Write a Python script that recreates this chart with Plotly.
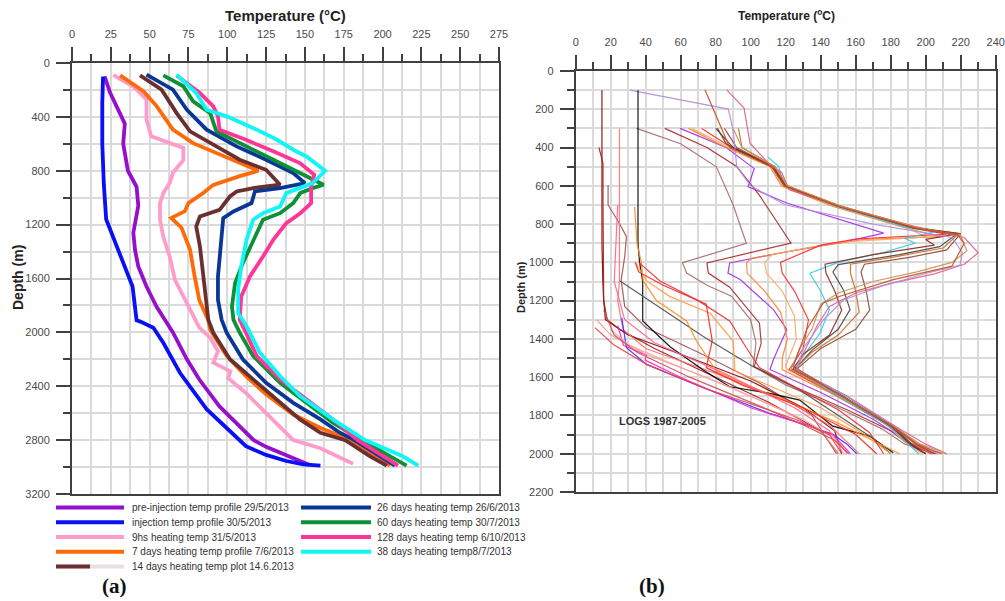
import plotly.graph_objects as go

W, H = 1005, 601

# ---------------- Panel (a) data: temperature (°C) vs depth (m) ----------------
pre_T = [21, 24.5, 34, 33, 36, 41.6, 42.7, 39.5, 40.6, 42.7, 48, 54.5, 60, 65, 74, 82, 95, 108, 117, 125, 138, 153]
pre_D = [100, 220, 450, 600, 800, 920, 1060, 1260, 1390, 1510, 1660, 1810, 1910, 2000, 2200, 2350, 2550, 2700, 2800, 2850, 2910, 2985]

inj_T = [20, 19.5, 19.5, 20.5, 22, 29, 36, 39, 41.6, 44, 52.4, 58.8, 69.5, 86.7, 99.6, 112, 125, 138, 149, 160]
inj_D = [100, 300, 600, 900, 1160, 1360, 1560, 1660, 1910, 1920, 1965, 2077, 2300, 2570, 2710, 2845, 2910, 2955, 2980, 2990]

h9_T = [26.6, 39.5, 48, 48, 51, 65, 71.7, 71.7, 65, 63, 58.8, 56.7, 56.7, 58.8, 63, 66.3, 71.7, 77, 82, 89, 94, 91, 102, 100.6, 112, 125, 142.5, 160, 172.5, 181]
h9_D = [90, 175, 270, 420, 545, 605, 630, 720, 815, 890, 965, 1040, 1165, 1290, 1440, 1610, 1735, 1860, 1965, 2040, 2140, 2225, 2290, 2340, 2450, 2600, 2800, 2860, 2930, 2975]

d7_T = [31, 46, 54.5, 65, 78, 93, 108, 120, 108, 91, 84.5, 75, 72.7, 64, 70.6, 76, 79, 82, 87.8, 89, 99.6, 112, 125, 142.5, 160, 180, 196, 204.8]
d7_D = [92, 210, 320, 495, 595, 670, 745, 800, 840, 905, 965, 1040, 1100, 1150, 1225, 1385, 1585, 1760, 1910, 1980, 2175, 2325, 2460, 2610, 2710, 2800, 2920, 2990]

d14_T = [43.8, 57.7, 67.4, 76, 93, 108, 125, 134, 116.7, 106, 101.7, 95, 82.4, 80, 82.4, 84.5, 86.7, 87.8, 91, 101.7, 116.7, 131.8, 146.8, 160, 176, 192, 202.7]
d14_D = [92, 198, 372, 508, 619, 718, 793, 904, 929, 954, 991, 1090, 1139, 1214, 1362, 1585, 1759, 1907, 2002, 2200, 2349, 2498, 2646, 2745, 2800, 2920, 2990]

d26_T = [48, 65, 74, 86.7, 106, 125, 142.5, 150, 134, 117.8, 115.6, 104, 97.4, 96.4, 94, 94, 96.4, 99.6, 110, 125, 142.5, 160, 172.5, 182, 198, 208]
d26_D = [87, 198, 347, 495, 619, 718, 817, 892, 929, 954, 1040, 1102, 1152, 1263, 1585, 1759, 1907, 2002, 2200, 2374, 2523, 2646, 2745, 2800, 2920, 2990]

d60_T = [58.8, 71.7, 78, 89, 93, 108, 125, 142.5, 153, 162, 155, 147, 142.5, 134, 123, 116.7, 110, 105, 103, 104, 108, 116.7, 134, 151, 168, 186.5, 204.8, 215.5]
d60_D = [92, 173, 285, 372, 508, 594, 694, 793, 855, 904, 929, 966, 1040, 1115, 1164, 1313, 1486, 1635, 1808, 1907, 2002, 2176, 2374, 2523, 2671, 2800, 2920, 2990]

d128_T = [67.4, 82.4, 91, 94, 95, 112, 129.6, 146.8, 156, 154, 154, 147, 138, 129.6, 123, 114.6, 109, 108, 112, 119, 134, 151, 168, 184, 200, 210]
d128_D = [92, 223, 322, 396, 495, 570, 656, 743, 830, 916, 1040, 1115, 1189, 1313, 1437, 1585, 1734, 1907, 2002, 2176, 2349, 2498, 2646, 2800, 2920, 2990]

d38_T = [67.4, 80, 86.7, 99.6, 119, 132, 142.5, 151, 163, 155, 138, 134, 123, 116.7, 112.4, 109, 107, 107, 112.4, 121, 134, 146.8, 168, 188.7, 213, 223]
d38_D = [87, 223, 347, 396, 495, 570, 644, 694, 800, 892, 966, 1065, 1115, 1164, 1313, 1511, 1684, 1858, 1953, 2151, 2324, 2473, 2646, 2800, 2920, 2990]

a_names = ["pre-injection temp profile 29/5/2013", "injection temp profile 30/5/2013",
           "9hs heating temp 31/5/2013", "7 days heating temp profile 7/6/2013",
           "14 days heating temp plot 14.6.2013", "26 days heating temp 26/6/2013",
           "60 days heating temp 30/7/2013", "128 days heating temp 6/10/2013",
           "38 days heating temp8/7/2013"]
a_colors = ["#9410CC", "#0A10F5", "#FF9CCB", "#FF6A08", "#6A3030",
            "#0A3696", "#0E9136", "#FF3597", "#10F5F5"]
a_T = [pre_T, inj_T, h9_T, d7_T, d14_T, d26_T, d60_T, d128_T, d38_T]
a_D = [pre_D, inj_D, h9_D, d7_D, d14_D, d26_D, d60_D, d128_D, d38_D]

# ---------------- Panel (b) data: logs 1987-2005 ----------------
# warm logs (peak near 850-950 m)
w1_T = [34.8, 60, 80.4, 90, 97.5, 61, 63.4, 75, 89, 100, 103, 101.5, 120, 150, 175, 188, 205]
w1_D = [300, 380, 501, 700, 901, 1002, 1056, 1120, 1177, 1300, 1420, 1543, 1640, 1760, 1870, 1950, 2000]
w2_T = [50.9, 75, 92, 105, 123, 75, 75.8, 88, 105, 106, 102, 125, 155, 180, 190, 200]
w2_D = [300, 400, 499, 650, 899, 1003, 1056, 1130, 1318, 1423, 1545, 1650, 1770, 1880, 1950, 2000]
w3_T = [59.6, 86, 102, 98.5, 120.6, 176, 155, 117, 88, 87, 94, 113, 120.6, 113, 111, 140, 170, 190, 206]
w3_D = [300, 400, 510, 605, 690, 847, 890, 951, 1003, 1056, 1090, 1247, 1351, 1508, 1560, 1680, 1820, 1940, 2000]
w4_T = [64.4, 86, 111, 117.7, 147, 189, 208, 165, 135, 100, 97.7, 98, 108, 117, 121, 118, 118, 145, 175, 190, 210]
w4_D = [300, 400, 500, 603, 708, 821, 865, 880, 920, 980, 1003, 1056, 1150, 1260, 1400, 1500, 1560, 1680, 1830, 1940, 2000]
w5_T = [66.3, 88, 112, 118, 148, 190, 200, 150, 112, 108, 109, 118, 125, 126, 120, 121, 148, 178, 188, 198]
w5_D = [300, 400, 500, 600, 705, 820, 868, 895, 960, 1003, 1056, 1150, 1280, 1400, 1540, 1560, 1690, 1850, 1940, 2000]
w6_T = [72, 89, 113, 119, 149, 192, 212, 160, 140, 117, 118, 125, 133, 130, 122, 150, 180, 192, 203]
w6_D = [300, 400, 500, 600, 705, 820, 852, 878, 910, 1000, 1056, 1150, 1300, 1450, 1560, 1700, 1860, 1950, 2000]
w7_T = [110, 116, 119, 148, 190, 206, 188, 194, 175, 150, 133.8, 139.6, 145, 139.6, 130, 124, 150, 178, 190, 196]
w7_D = [450, 500, 600, 705, 820, 839, 874, 900, 950, 1000, 1057, 1144, 1247, 1369, 1490, 1560, 1700, 1850, 1950, 2000]
w8_T = [80, 90, 113, 120, 150, 193, 216, 200, 205, 170, 142.5, 143, 148, 152, 145, 130, 124, 152, 181, 191, 200]
w8_D = [300, 400, 500, 600, 705, 820, 855, 880, 910, 960, 1010, 1056, 1150, 1250, 1380, 1480, 1560, 1700, 1860, 1950, 2000]
w9_T = [81, 86, 112, 120, 150, 194, 218, 208, 185, 150, 147, 153, 156.8, 150, 135, 125, 153, 183, 192, 200]
w9_D = [300, 380, 500, 600, 705, 820, 850, 918, 960, 1012, 1050, 1144, 1247, 1350, 1460, 1560, 1700, 1870, 1950, 2000]
w10_T = [93, 95, 114, 121, 151, 195, 219, 210, 180, 157, 157, 160, 162, 150, 135, 125, 152, 182, 194, 204]
w10_D = [300, 400, 500, 600, 705, 820, 850, 925, 975, 1010, 1056, 1150, 1260, 1380, 1470, 1560, 1700, 1860, 1950, 2000]
w11_T = [85, 92, 113, 120, 150, 195, 220, 212, 190, 165, 163, 166, 168, 160, 140, 126, 155, 184, 195, 205]
w11_D = [300, 400, 500, 600, 705, 820, 850, 935, 975, 1010, 1050, 1150, 1250, 1350, 1450, 1560, 1700, 1870, 1950, 2000]
n1_T = [86.3, 96.2, 99.6, 111, 117.7, 122, 150, 195, 222, 230, 222, 205, 180, 160, 145, 138, 132, 126, 155, 185, 200, 212]
n1_D = [99, 194, 377, 490, 530, 620, 705, 815, 870, 950, 1010, 1060, 1110, 1160, 1230, 1330, 1440, 1560, 1700, 1870, 1950, 2000]
n2_T = [31, 87.2, 90, 92, 100, 119.6, 170, 215, 221, 219.6, 200.5, 174, 153, 141.5, 130, 126.3, 155, 183, 196, 207]
n2_D = [100, 199, 310, 500, 600, 699, 800, 870, 950, 1014, 1057, 1127, 1197, 1301, 1450, 1560, 1700, 1860, 1950, 2000]
n3_T = [90, 95, 114, 121, 151, 196, 220, 223.5, 215, 195, 170, 150, 140, 135, 128, 123, 152, 182, 197, 212]
n3_D = [300, 400, 500, 600, 705, 820, 860, 940, 1000, 1050, 1100, 1160, 1220, 1350, 1450, 1560, 1700, 1860, 1950, 2000]
n4_T = [73.9, 80.6, 88, 112, 119, 149, 193, 218, 222, 215, 181.5, 151, 141.5, 132, 124.4, 150, 180, 195, 209]
n4_D = [99, 246, 400, 500, 600, 705, 820, 855, 900, 1020, 1090, 1177, 1212, 1351, 1543, 1690, 1850, 1950, 2000]
# cold logs (shallow cold section)
c1_T = [15, 15, 15, 15.5, 16, 17, 30, 60, 100, 130, 148, 152]
c1_D = [100, 500, 900, 1100, 1200, 1300, 1380, 1480, 1620, 1760, 1880, 2000]
c2_T = [13.3, 15.6, 15.6, 15.6, 16, 18, 25, 45, 75, 110, 140, 150]
c2_D = [400, 483, 700, 1000, 1200, 1300, 1350, 1450, 1580, 1730, 1880, 2000]
c3_T = [18.5, 18.5, 25, 29, 28, 26, 28, 40, 70, 105, 135, 149]
c3_D = [597, 700, 797, 866, 970, 1092, 1230, 1340, 1470, 1630, 1800, 2000]
c4_T = [25, 25, 25, 25, 24, 27, 40, 80, 120, 145, 162]
c4_D = [300, 600, 900, 1100, 1200, 1350, 1450, 1580, 1720, 1850, 2000]
c5_T = [35.6, 35.6, 35.6, 36.5, 38.3, 38.3, 53.9, 72.9, 88, 111, 128, 147, 168, 181.5]
c5_D = [100, 500, 900, 1000, 1100, 1306, 1441, 1563, 1650, 1685, 1720, 1856, 1908, 1995]
c6_T = [25.3, 38.6, 55, 72.9, 92, 101.5, 128, 150, 170, 180]
c6_D = [1097, 1179, 1280, 1388, 1493, 1545, 1667, 1800, 1920, 2000]
c7_T = [33.7, 35, 37.5, 38.6, 46.2, 63.4, 69, 80.4, 100, 125, 150, 172, 185]
c7_D = [710, 900, 1000, 1097, 1201, 1306, 1411, 1568, 1650, 1740, 1840, 1940, 2000]
c8_T = [34, 40.5, 53.9, 76.8, 90, 91, 112, 140, 165, 180]
c8_D = [1000, 1097, 1179, 1266, 1411, 1568, 1650, 1760, 1900, 2000]
c9_T = [34, 36, 50, 74.6, 78, 74.6, 95, 130, 160, 172]
c9_D = [1000, 1050, 1120, 1219, 1411, 1550, 1640, 1760, 1900, 2000]
c10_T = [36, 48.2, 70, 88, 97.5, 105, 125, 150, 168, 176]
c10_D = [1000, 1097, 1200, 1306, 1446, 1550, 1650, 1770, 1890, 2000]
c11_T = [26.3, 29, 40.5, 72.9, 110, 128, 147, 155, 160.6]
c11_D = [1289, 1446, 1533, 1655, 1786, 1838, 1899, 1950, 2000]
c12_T = [24, 27.3, 40.5, 39.6, 60, 100, 128, 147, 157]
c12_D = [1330, 1433, 1485, 1511, 1600, 1760, 1840, 1900, 2000]
c13_T = [24, 23, 22, 25, 28, 45, 85, 125, 145, 155]
c13_D = [700, 900, 1100, 1200, 1300, 1420, 1580, 1760, 1880, 2000]
c14_T = [12, 20, 40, 80, 120, 142, 150]
c14_D = [1300, 1380, 1480, 1620, 1780, 1900, 2000]
c15_T = [20, 30, 55, 95, 130, 148, 153]
c15_D = [1350, 1430, 1530, 1680, 1820, 1920, 2000]
c16_T = [11, 21.5, 40.5, 72.9, 110, 128, 145, 152]
c16_D = [1341, 1429, 1533, 1655, 1770, 1829, 1900, 2000]
c17_T = [16, 22, 35, 65, 105, 130, 148, 156]
c17_D = [1250, 1380, 1470, 1600, 1750, 1850, 1930, 2000]

b_T = [w1_T, w2_T, w3_T, w4_T, w5_T, w6_T, w7_T, w8_T, w9_T, w10_T, w11_T, n1_T, n2_T, n3_T, n4_T,
       c1_T, c2_T, c3_T, c4_T, c5_T, c6_T, c7_T, c8_T, c9_T, c10_T, c11_T, c12_T, c13_T, c14_T, c15_T, c16_T, c17_T]
b_D = [w1_D, w2_D, w3_D, w4_D, w5_D, w6_D, w7_D, w8_D, w9_D, w10_D, w11_D, n1_D, n2_D, n3_D, n4_D,
       c1_D, c2_D, c3_D, c4_D, c5_D, c6_D, c7_D, c8_D, c9_D, c10_D, c11_D, c12_D, c13_D, c14_D, c15_D, c16_D, c17_D]
b_colors = ["#A86B6B", "#A52A2A", "#A030E0", "#FF8030", "#FFA860", "#FF2A2A", "#33C8EE", "#8B2A1A",
            "#444444", "#D2691E", "#8B4A3A", "#E0608A", "#B48CE0", "#C8905A", "#C0501E",
            "#8B0000", "#9B1B1B", "#A05050", "#FF7070", "#000000", "#505050", "#FF8C1A", "#FF9A40",
            "#FF2020", "#E83030", "#3030FF", "#FF20D0", "#FF6090", "#FF9999", "#FFA0A0", "#F04040", "#D05050"]

a_xticks = list(range(0, 276, 25))
a_yticks = list(range(0, 3201, 400))
b_xticks = list(range(0, 241, 20))
b_yticks = list(range(0, 2201, 200))


def px(x):
    return x / W


def py(y):
    return 1 - y / H


fig = go.Figure()

for t, d, c, n in zip(a_T, a_D, a_colors, a_names):
    fig.add_trace(go.Scatter(x=t, y=d, mode="lines", name=n, line=dict(color=c, width=3.8),
                             xaxis="x", yaxis="y", showlegend=False))

for t, d, c in zip(b_T, b_D, b_colors):
    fig.add_trace(go.Scatter(x=t, y=d, mode="lines", line=dict(color=c, width=1.2),
                             xaxis="x2", yaxis="y2", showlegend=False, opacity=0.9))

grid_c = "#dadada"
axis_c = "#404040"
tick_font = dict(family="Arial, Liberation Sans, sans-serif", size=11, color="#4a4a4a")


def xax(domain, rng, vals, minor_dt, anchor):
    return dict(domain=domain, range=rng, side="top", anchor=anchor, tickmode="array", tickvals=vals,
                ticks="outside", ticklen=14, tickwidth=2, tickcolor=axis_c,
                showgrid=True, gridcolor=grid_c, gridwidth=1.5,
                minor=dict(dtick=minor_dt, tick0=0, ticks="outside", ticklen=7, tickwidth=2,
                           tickcolor=axis_c, showgrid=True, gridcolor=grid_c, gridwidth=1.5),
                showline=True, linecolor=axis_c, linewidth=2, mirror=True, automargin=False,
                tickfont=tick_font, zeroline=False, ticklabelstandoff=5)


def yax(domain, rng, vals, minor_dt, anchor):
    return dict(domain=domain, range=rng, anchor=anchor, tickmode="array", tickvals=vals,
                ticks="outside", ticklen=14, tickwidth=2, tickcolor=axis_c,
                showgrid=True, gridcolor=grid_c, gridwidth=1.5,
                minor=dict(dtick=minor_dt, tick0=0, ticks="outside", ticklen=7, tickwidth=2,
                           tickcolor=axis_c, showgrid=True, gridcolor=grid_c, gridwidth=1.5),
                showline=True, linecolor=axis_c, linewidth=2, mirror=True, automargin=False,
                tickfont=tick_font, zeroline=False, ticklabelstandoff=4)


fig.update_layout(
    width=W, height=H, margin=dict(l=0, r=0, t=0, b=0, pad=0, autoexpand=False),
    paper_bgcolor="white", plot_bgcolor="white", showlegend=False,
    xaxis=xax([px(72), px(499)], [0, 275], a_xticks, 12.5, "y"),
    yaxis=yax([py(494), py(63)], [3200, 0], a_yticks, 200, "x"),
    xaxis2=xax([px(575.7), px(995.7)], [0, 240], b_xticks, 10, "y2"),
    yaxis2=yax([py(492), py(71)], [2200, 0], b_yticks, 100, "x2"),
)

ann = []
bold = "Arial, Liberation Sans, sans-serif"


def note(text, x, y, size, family=bold, angle=0, xanchor="center", color="#222222"):
    ann.append(dict(text=text, x=px(x), y=py(y), xref="paper", yref="paper", xanchor=xanchor,
                    yanchor="middle", textangle=angle, showarrow=False,
                    font=dict(family=family, size=size, color=color)))


note("<b>Temperature (°C)</b>", 285, 16, 15)
note("<b>Temperature (<sup>o</sup>C)</b>", 786, 15, 12)
note("<b>Depth (m)</b>", 18, 278, 14, angle=-90)
note("<b>Depth (m)</b>", 521, 287, 11, angle=-90)
note("<b>(a)</b>", 114, 586, 21, family="Liberation Serif, Times New Roman, serif", color="#111111")
note("<b>(b)</b>", 652, 586, 21, family="Liberation Serif, Times New Roman, serif", color="#111111")
ann.append(dict(text="<b>LOGS 1987-2005</b>", x=23.6, y=1829, xref="x2", yref="y2", xanchor="left",
                yanchor="middle", showarrow=False, font=dict(family=bold, size=11, color="#333333")))

# manual two-column legend for panel (a)
shapes = []
col1 = [0, 1, 2, 3, 4]
col2 = [5, 6, 7, 8]
rows_y = [507.5, 522.3, 537, 551.7, 566.5]
for col, (x0, x1, xt) in ((col1, (56, 124, 130)), (col2, (301, 371, 375))):
    for r, idx in enumerate(col):
        yy = rows_y[r]
        if idx == 4:
            shapes.append(dict(type="line", xref="paper", yref="paper", x0=px(x0), x1=px(x1), y0=py(yy), y1=py(yy),
                               line=dict(color="#eadfe0", width=4)))
            shapes.append(dict(type="line", xref="paper", yref="paper", x0=px(x0), x1=px(90), y0=py(yy), y1=py(yy),
                               line=dict(color=a_colors[idx], width=4)))
        else:
            shapes.append(dict(type="line", xref="paper", yref="paper", x0=px(x0), x1=px(x1), y0=py(yy), y1=py(yy),
                               line=dict(color=a_colors[idx], width=4)))
        note(a_names[idx], xt, yy, 10, family="Arial, Liberation Sans, sans-serif", xanchor="left", color="#333333")

fig.update_layout(annotations=ann, shapes=shapes)
fig.write_html("out.html")
